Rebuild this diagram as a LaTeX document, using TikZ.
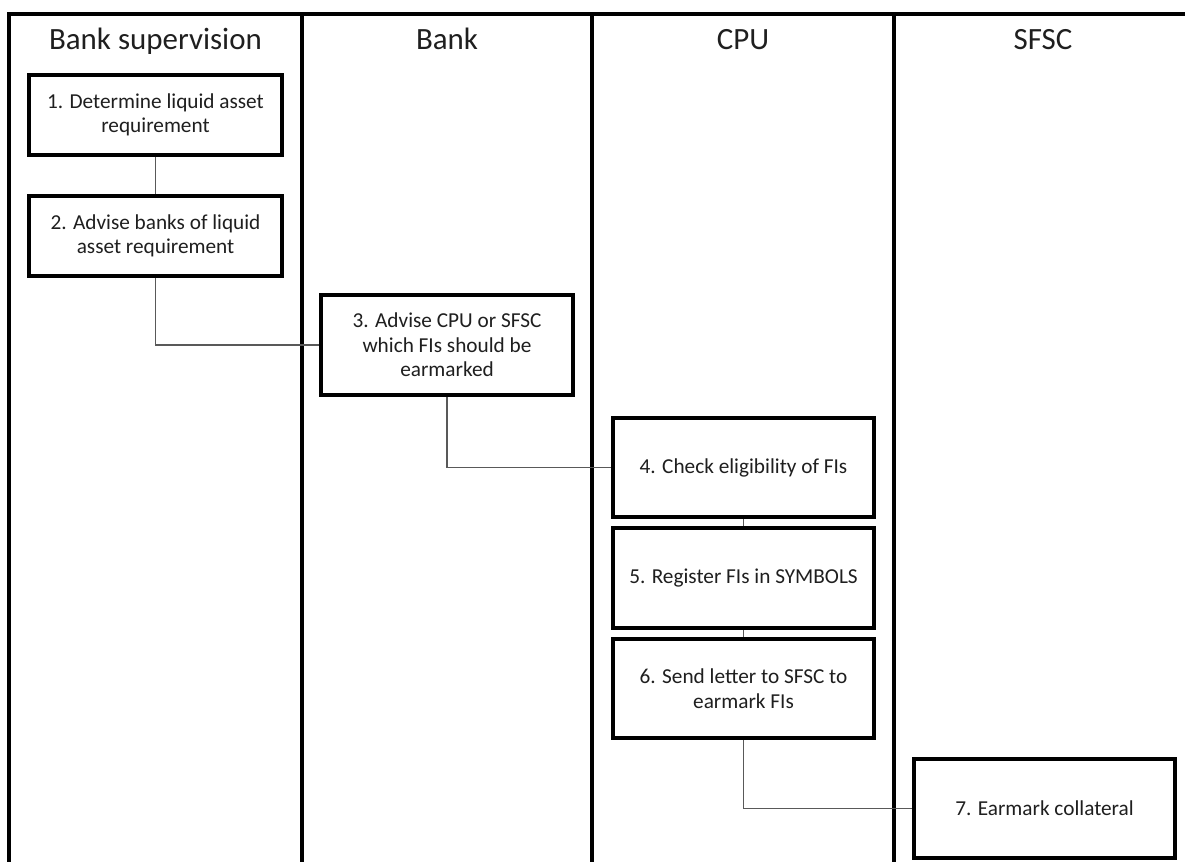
\documentclass[tikz,border=0pt]{standalone}
\usepackage{fontspec}
\setmainfont{Carlito}
\begin{document}
\begin{tikzpicture}[x=0.02cm, y=-0.02cm,
  lane/.style={line width=0.08cm, black},
  stepbox/.style={draw, line width=0.08cm, fill=white, align=center,
    inner sep=0pt, text=black!88,
    font=\fontsize{12.1pt}{13.94pt}\selectfont},
  head/.style={anchor=base, text=black!88,
    font=\fontsize{17.6pt}{20pt}\selectfont},
  conn/.style={line width=0.03cm, black!65}]
  \useasboundingbox (0,0) rectangle (1185,861);
  \clip (0,0) rectangle (1185,861);

  % swimlane frame and dividers
  \draw[lane] (9,880) -- (9,14) -- (1192,14) -- (1192,880);
  \draw[lane] (302,14) -- (302,880);
  \draw[lane] (592,14) -- (592,880);
  \draw[lane] (894,14) -- (894,880);

  % lane titles
  \node[head] (hsup) at (155.5,50) {Bank supervision};
  \node[head] (hbank) at (447,50) {Bank};
  \node[head] (hcpu) at (743,50) {CPU};
  \node[head] (hsfsc) at (1043,50) {SFSC};

  % process steps
  \node[stepbox, minimum width=253*0.02cm, minimum height=80*0.02cm] (b1) at (155.5,115)
    {1. Determine liquid asset\\requirement};
  \node[stepbox, minimum width=253*0.02cm, minimum height=80*0.02cm] (b2) at (155.5,236)
    {2. Advise banks of liquid\\asset requirement};
  \node[stepbox, minimum width=252*0.02cm, minimum height=100*0.02cm] (b3) at (447,345)
    {3. Advise CPU or SFSC\\which FIs should be\\earmarked};
  \node[stepbox, minimum width=261*0.02cm, minimum height=99*0.02cm] (b4) at (743.5,467.5)
    {4. Check eligibility of FIs};
  \node[stepbox, minimum width=261*0.02cm, minimum height=100*0.02cm] (b5) at (743.5,578)
    {5. Register FIs in SYMBOLS};
  \node[stepbox, minimum width=261*0.02cm, minimum height=99*0.02cm] (b6) at (743.5,688.5)
    {6. Send letter to SFSC to\\earmark FIs};
  \node[stepbox, minimum width=261*0.02cm, minimum height=99*0.02cm] (b7) at (1044.5,808.5)
    {7. Earmark collateral};

  % flow lines
  \draw[conn] (b1.south) -- (b2.north);
  \draw[conn] (b2.south) |- (b3.west);
  \draw[conn] (b3.south) |- (b4.west);
  \draw[conn] (b4.south) -- (b5.north);
  \draw[conn] (b5.south) -- (b6.north);
  \draw[conn] (b6.south) |- (b7.west);
\end{tikzpicture}
\end{document}
